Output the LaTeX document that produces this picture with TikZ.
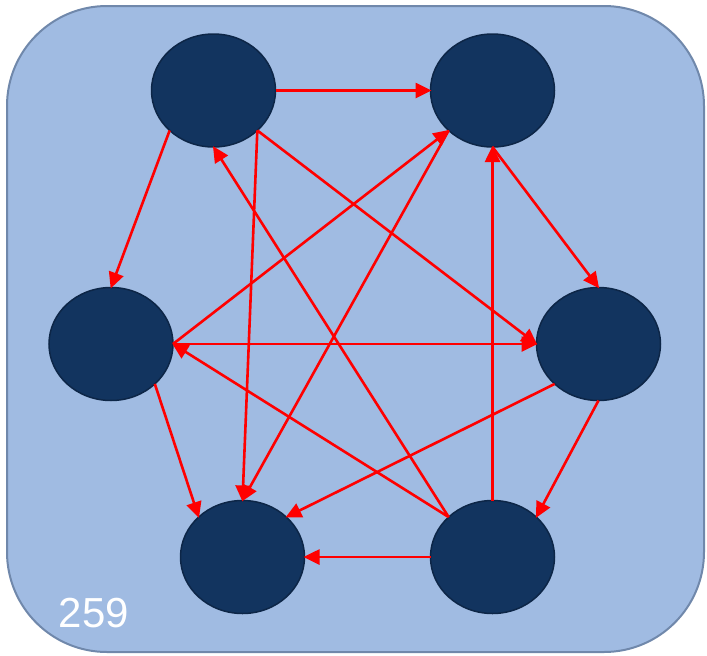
\documentclass[tikz,border=0pt]{standalone}
\usepackage{fontspec}
\setmainfont{Liberation Sans}
\usetikzlibrary{shapes.geometric,arrows.meta}
\definecolor{bgfill}{HTML}{A0BBE2}
\definecolor{bgline}{HTML}{7088AB}
\definecolor{nodefill}{HTML}{12345F}
\definecolor{nodeline}{HTML}{0D2647}
\definecolor{arrowred}{HTML}{FF0000}
\tikzset{
  vert/.style={ellipse, fill=nodefill, draw=nodeline, line width=1.5pt,
    minimum width=124pt, minimum height=113pt, inner sep=0pt, outer sep=0pt},
  link/.style={draw=arrowred, line width=2.6pt, -{Triangle[length=16pt,width=15pt]}, shorten >=-1pt}
}
\begin{document}
\begin{tikzpicture}[x=1pt,y=-1pt]
\useasboundingbox (0,0) rectangle (707,656);
\draw[fill=bgfill, draw=bgline, line width=2pt, rounded corners=100pt] (7,6) rectangle (704,652);
\node[vert] (A) at (213.5,90.5) {};
\node[vert] (B) at (492.5,90.5) {};
\node[vert] (C) at (111,344) {};
\node[vert] (D) at (598.5,344) {};
\node[vert] (E) at (242.5,557) {};
\node[vert] (F) at (492.5,557) {};
\node[text=white, font=\fontsize{42}{44}\selectfont, inner sep=0pt] (num) at (94,613) {259};
\draw[link] (A.east) -- (B.west);
\draw[link] (A.south west) -- (C.north);
\draw[link] (A.south east) -- (E.north);
\draw[link] (A.south east) -- (D.west);
\draw[link] (F.north west) -- (A.south);
\draw[link] (C.east) -- (B.south west);
\draw[link] (B.south west) -- (E.north);
\draw[link] (B.south) -- (D.north);
\draw[link] (F.north) -- (B.south);
\draw[link] (C.east) -- (D.west);
\draw[link] (F.north west) -- (C.east);
\draw[link] (C.south east) -- (E.north west);
\draw[link] (D.south west) -- (E.north east);
\draw[link] (D.south) -- (F.north east);
\draw[link] (F.west) -- (E.east);
\end{tikzpicture}
\end{document}
